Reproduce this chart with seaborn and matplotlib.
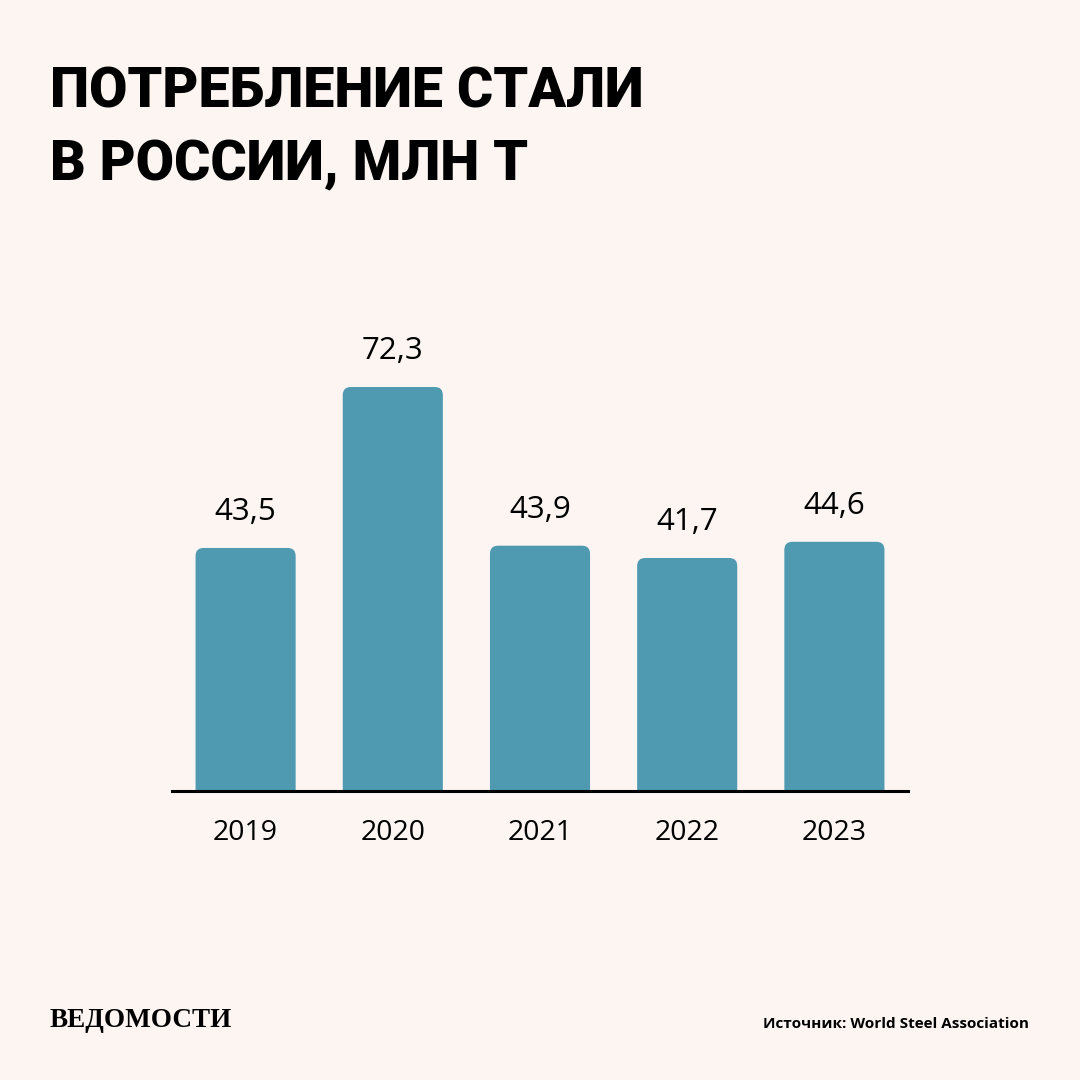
import matplotlib
matplotlib.use("Agg")
import matplotlib.pyplot as plt
from matplotlib.patches import FancyBboxPatch
import seaborn as sns
import pandas as pd

years = ["2019", "2020", "2021", "2022", "2023"]
values = [43.5, 72.3, 43.9, 41.7, 44.6]
value_labels = ["43,5", "72,3", "43,9", "41,7", "44,6"]
title_lines = ["ПОТРЕБЛЕНИЕ СТАЛИ", "В РОССИИ, МЛН Т"]
source_text = "Источник: World Steel Association"
logo_text = "ВЕДОМОСТИ"

BG = "#FCF5F2"
BAR = "#4F9AB0"

sns.set_theme(style="white")
plt.rcParams["font.family"] = ["Open Sans", "DejaVu Sans"]

fig = plt.figure(figsize=(10.8, 10.8), dpi=100, facecolor=BG)
ax = fig.add_axes([172/1080, 1 - 791/1080, 736/1080, 447/1080])
ax.set_facecolor(BG)

df = pd.DataFrame({"year": years, "value": values})
sns.barplot(data=df, x="year", y="value", color=BAR, width=0.68, ax=ax,
            saturation=1)
ax.set_ylim(0, 80)
ax.set_xlim(-0.5, 4.5)

# replace bars with rounded ones
px_x = 1 / 147.2
px_y = 80 / 447
r_px = 8
old = list(ax.patches)
for p in old:
    x0, w, h = p.get_x(), p.get_width(), p.get_height()
    p.remove()
    fb = FancyBboxPatch((x0, -r_px * px_y * 2), w, h + r_px * px_y * 2,
                        boxstyle=f"round,pad=0,rounding_size={r_px*px_x}",
                        mutation_aspect=px_y / px_x,
                        facecolor=BAR, edgecolor="none", clip_on=True)
    ax.add_patch(fb)

for i, (v, lab) in enumerate(zip(values, value_labels)):
    ax.annotate(lab, (i, v), xytext=(0, 20), textcoords="offset points",
                ha="center", va="baseline", fontsize=22.5, color="black")

for s in ["top", "right", "left"]:
    ax.spines[s].set_visible(False)
ax.spines["bottom"].set_color("black")
ax.spines["bottom"].set_linewidth(2.2)
ax.set_yticks([])
ax.set_xlabel("")
ax.set_ylabel("")
ax.tick_params(axis="x", length=0, pad=20, labelsize=20.5, colors="black")

fig.text(50/1080, 1 - 108/1080, title_lines[0], fontsize=40, fontweight="black",
         family=["Roboto", "DejaVu Sans"], fontstretch="condensed",
         ha="left", va="baseline", color="black")
fig.text(50/1080, 1 - 180/1080, title_lines[1], fontsize=40, fontweight="black",
         family=["Roboto", "DejaVu Sans"], fontstretch="condensed",
         ha="left", va="baseline", color="black")

fig.text(50/1080, 1 - 1027/1080, logo_text, fontsize=19.5, fontweight="bold",
         family=["Liberation Serif", "DejaVu Serif"], ha="left", va="baseline",
         color="black")
fig.text(1029/1080, 1 - 1028/1080, source_text, fontsize=11, fontweight="bold",
         ha="right", va="baseline", color="black")

fig.savefig("out.png", dpi=100, facecolor=BG)
